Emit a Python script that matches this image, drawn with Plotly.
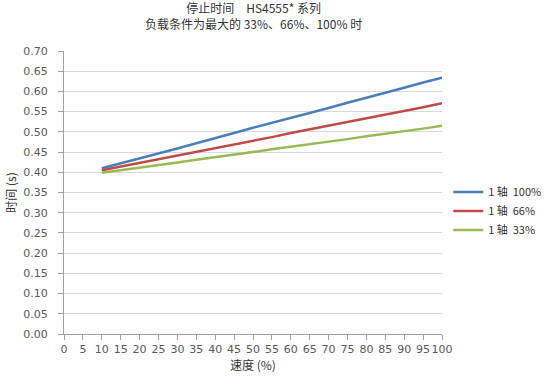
import plotly.graph_objects as go

speed = [10, 15, 20, 25, 30, 35, 40, 45, 50, 55, 60, 65, 70, 75, 80, 85, 90, 95, 100]
t100 = [0.410, 0.422, 0.434, 0.447, 0.459, 0.472, 0.484, 0.497, 0.510, 0.522,
        0.535, 0.547, 0.559, 0.572, 0.584, 0.597, 0.609, 0.622, 0.634]
t66 = [0.405, 0.414, 0.423, 0.432, 0.441, 0.451, 0.460, 0.469, 0.478, 0.487,
       0.497, 0.506, 0.515, 0.524, 0.534, 0.543, 0.552, 0.561, 0.571]
t33 = [0.399, 0.405, 0.412, 0.418, 0.424, 0.431, 0.437, 0.444, 0.450, 0.457,
       0.463, 0.469, 0.476, 0.482, 0.489, 0.495, 0.502, 0.508, 0.515]
names = ["1 轴  100%", "1 轴  66%", "1 轴  33%"]
colors = ["#4a7ebb", "#be4b48", "#98b954"]
x_ticks = list(range(0, 101, 5))
y_ticks = [round(i * 0.05, 2) for i in range(15)]

fig = go.Figure()
for ys, nm, c in zip([t100, t66, t33], names, colors):
    fig.add_trace(go.Scatter(x=speed, y=ys, mode="lines", name=nm,
                             line=dict(color=c, width=2.5)))

tick_font = dict(family="DejaVu Sans, Verdana", size=11, color="#595959")
cjk = "Noto Sans CJK SC"
fig.add_annotation(text="停止时间　HS4555* 系列<br>负载条件为最大的 33%、66%、100% 时",
                   xref="paper", yref="paper", x=0.5, y=1.19,
                   xanchor="center", yanchor="top", showarrow=False,
                   font=dict(family=cjk, size=12, color="#333333"))
fig.update_layout(
    width=550, height=377,
    margin=dict(l=64, r=108, t=51, b=43),
    paper_bgcolor="white", plot_bgcolor="white",
    legend=dict(xref="container", yref="container", x=0.815, y=0.44,
                xanchor="left", yanchor="middle",
                font=dict(family=cjk + ", DejaVu Sans", size=11, color="#333333"),
                tracegroupgap=0, itemwidth=30),
    xaxis=dict(range=[0, 100], tickvals=x_ticks, ticktext=[str(v) for v in x_ticks],
               tickangle=0, automargin=False,
               showgrid=False, showline=True, linecolor="#a0a0a0", linewidth=1,
               ticks="outside", ticklen=5, tickcolor="#a0a0a0",
               tickfont=tick_font, zeroline=False,
               title=dict(text="速度 (%)", standoff=4,
                          font=dict(family=cjk, size=12, color="#333333"))),
    yaxis=dict(range=[0, 0.70], tickvals=y_ticks, ticktext=[f"{v:.2f}" for v in y_ticks],
               automargin=False,
               showgrid=True, gridcolor="#d9d9d9", gridwidth=1,
               showline=True, linecolor="#a0a0a0", linewidth=1,
               ticks="outside", ticklen=5, tickcolor="#a0a0a0",
               ticklabelstandoff=8,
               tickfont=tick_font, zeroline=False,
               title=dict(text="时间 (s)", standoff=4,
                          font=dict(family=cjk, size=12, color="#333333"))),
)
fig.write_html("out.html", config={"displayModeBar": False},
               post_script="document.body.style.margin='0';")
